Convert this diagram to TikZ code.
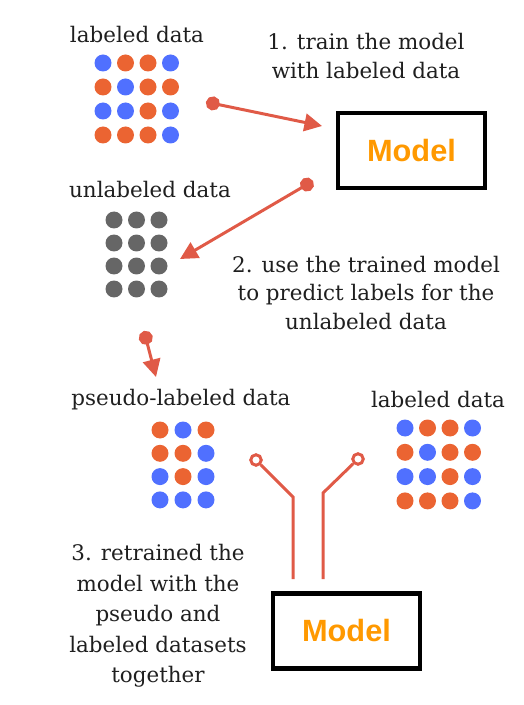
\documentclass[tikz,border=0pt]{standalone}
\usepackage{fontspec}
\setmainfont{DejaVu Serif}
\newfontfamily\modelfont{Liberation Sans}
\usepackage{xcolor}
\usepackage{tikz}
\usetikzlibrary{arrows.meta}
\definecolor{dotb}{HTML}{5070FF}
\definecolor{doto}{HTML}{EB6432}
\definecolor{dotg}{HTML}{666666}
\definecolor{linkred}{HTML}{E05A47}
\definecolor{modelorange}{HTML}{FF9900}
\newcommand{\modeltext}{{\modelfont\bfseries\fontsize{17.5}{20}\selectfont\color{modelorange}Model}}

\begin{document}
\begin{tikzpicture}[x=0.02cm, y=-0.02cm,
    every node/.style={font=\fontsize{12.2}{16}\selectfont, text=black!88},
    modelbox/.style={draw, line width=2.3pt, minimum width=2.94cm, minimum height=1.5cm},
    link/.style={linkred, line width=1.7pt, {Circle[length=8pt]}-{Triangle[length=10pt,width=10pt]}},
    fork/.style={linkred, line width=1.7pt},
    ring/.style={circle, draw=linkred, line width=1.7pt, minimum size=0.21cm, inner sep=0pt}]
        \useasboundingbox (0,0) rectangle (523,705);

        % labeled data (top)
        \node (labtop) at (137,35) {labeled data};
        \foreach \row [count=\r from 0] in {{b,o,o,b},{o,b,o,o},{b,b,o,b},{o,o,o,b}}
            \foreach \c [count=\k from 0] in \row
                \fill[dot\c] (103+\k*22.5, 63+\r*24) circle (0.17cm);

        % step 1
        \node[align=center] (step1) at (366,56) {1. train the model\\with labeled data};

        % Model (top)
        \node[modelbox] (model1) at (411.5,150.5) {\modeltext};

        % unlabeled data
        \node (unlab) at (150,190) {unlabeled data};
        \foreach \row [count=\r from 0] in {{g,g,g},{g,g,g},{g,g,g},{g,g,g}}
            \foreach \c [count=\k from 0] in \row
                \fill[dot\c] (114+\k*22.5, 220+\r*23) circle (0.17cm);

        % step 2
        \node[align=center] (step2) at (366,293) {2. use the trained model\\to predict labels for the\\unlabeled data};

        % arrows
        \coordinate (a1s) at (206,102);
        \coordinate (a1e) at (322,126);
        \coordinate (a2s) at (313,181);
        \coordinate (a2e) at (180,259);
        \coordinate (a3s) at (144,331);
        \coordinate (a3e) at (156,377);
        \draw[link] (a1s) -- (a1e);
        \draw[link] (a2s) -- (a2e);
        \draw[link] (a3s) -- (a3e);

        % pseudo-labeled data
        \node (pseudo) at (181,400) {pseudo-labeled data};
        \foreach \row [count=\r from 0] in {{o,b,o},{o,o,b},{b,o,b},{b,b,b}}
            \foreach \c [count=\k from 0] in \row
                \fill[dot\c] (160+\k*23, 430+\r*23.3) circle (0.17cm);

        % labeled data (right)
        \node (labright) at (438,400) {labeled data};
        \foreach \row [count=\r from 0] in {{b,o,o,b},{o,b,o,o},{b,b,o,b},{o,o,o,b}}
            \foreach \c [count=\k from 0] in \row
                \fill[dot\c] (405+\k*22.5, 428+\r*24.3) circle (0.17cm);

        % Model (bottom)
        \node[modelbox] (model2) at (346.5,631) {\modeltext};

        % fork into the model
        \node[ring] (inl) at (256,460) {};
        \node[ring] (inr) at (358,459) {};
        \coordinate (kl) at (293,497);
        \coordinate (kr) at (323,493);
        \coordinate (el) at (293,579);
        \coordinate (er) at (323,579);
        \draw[fork] (inl) -- (kl) -- (el);
        \draw[fork] (inr) -- (kr) -- (er);

        % step 3
        \node[align=center, font=\fontsize{12.2}{17.3}\selectfont] (step3) at (158,616) {3. retrained the\\model with the\\pseudo and\\labeled datasets\\together};
    \end{tikzpicture}
\end{document}
